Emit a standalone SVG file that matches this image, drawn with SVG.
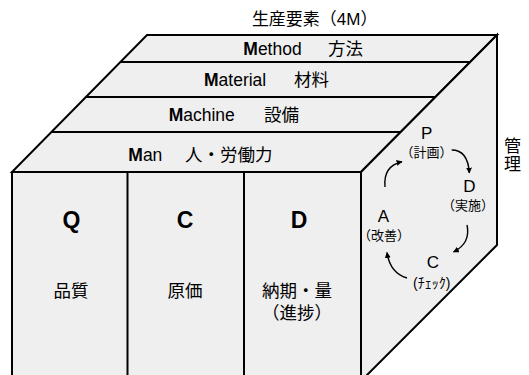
<svg xmlns="http://www.w3.org/2000/svg" width="529" height="375" viewBox="0 0 529 375">
<defs>
<style>
text{font-family:"Liberation Sans","Noto Sans CJK JP",sans-serif;fill:#000}
.face{fill:#efefef;stroke:#000;stroke-width:2;stroke-linejoin:miter}
.ln{stroke:#000;stroke-width:2;fill:none}
.band{font-size:17.5px}
.big{font-size:23px;font-weight:bold}
.jp{font-size:17.5px}
.pd{font-size:17px}
.sm{font-size:13px}
.arr{fill:none;stroke:#000;stroke-width:1.4;marker-end:url(#ah)}
</style>
<marker id="ah" viewBox="0 0 10 10" refX="9" refY="5" markerWidth="6" markerHeight="6" markerUnits="userSpaceOnUse" orient="auto">
<path d="M0,0 L10,5 L0,10 z" fill="#000"/>
</marker>
</defs>
<rect width="529" height="375" fill="#fff"/>
<text id="title" x="314.7" y="25" font-size="17" text-anchor="middle">生産要素（4M）</text>
<g id="top-face">
<polygon class="face" points="147,35 497,35 361,172 12,172"/>
<g id="band-method">
<text class="band" x="243.3" y="55"><tspan font-weight="bold">M</tspan>ethod</text>
<text class="band" x="328" y="55">方法</text>
</g>
<g id="band-material">
<line class="ln" x1="120.4" y1="62" x2="470.2" y2="62"/>
<text class="band" x="204" y="86"><tspan font-weight="bold">M</tspan>aterial</text>
<text class="band" x="294" y="86">材料</text>
</g>
<g id="band-machine">
<line class="ln" x1="85.9" y1="97" x2="435.5" y2="97"/>
<text class="band" x="168.7" y="121"><tspan font-weight="bold">M</tspan>achine</text>
<text class="band" x="264" y="121">設備</text>
</g>
<g id="band-man">
<line class="ln" x1="51.4" y1="132" x2="400.7" y2="132"/>
<text class="band" x="128.3" y="161"><tspan font-weight="bold">M</tspan>an</text>
<text class="band" x="185" y="161">人・労働力</text>
</g>
</g>
<g id="front-face">
<polygon class="face" points="12,172 361,172 361,380 12,380"/>
<g id="col-q">
<text class="big" x="71.5" y="228" text-anchor="middle">Q</text>
<text class="jp" x="71" y="296.5" text-anchor="middle">品質</text>
</g>
<g id="col-c">
<line class="ln" x1="127.5" y1="172" x2="127.5" y2="380"/>
<text class="big" x="185" y="228" text-anchor="middle">C</text>
<text class="jp" x="185" y="296.5" text-anchor="middle">原価</text>
</g>
<g id="col-d">
<line class="ln" x1="244" y1="172" x2="244" y2="380"/>
<text class="big" x="299" y="228" text-anchor="middle">D</text>
<text class="jp" x="297" y="296.5" text-anchor="middle">納期・量</text>
<text class="jp" x="297" y="319" text-anchor="middle">（進捗）</text>
</g>
</g>
<g id="right-face">
<polygon class="face" points="361,172 497,35 497,245 361,381"/>
<g id="node-p">
<text class="pd" x="426.7" y="139.3" text-anchor="middle">P</text>
<text class="sm" x="426.5" y="157" text-anchor="middle">（計画）</text>
</g>
<g id="node-d">
<text class="pd" x="469.5" y="191.5" text-anchor="middle">D</text>
<text class="sm" x="468" y="210" text-anchor="middle">（実施）</text>
</g>
<g id="node-c">
<text class="pd" x="433" y="268" text-anchor="middle">C</text>
<text x="431.7" y="288" font-size="14" text-anchor="middle">(ﾁｪｯｸ)</text>
</g>
<g id="node-a">
<text class="pd" x="383.3" y="221.5" text-anchor="middle">A</text>
<text class="sm" x="384" y="240" text-anchor="middle">（改善）</text>
</g>
</g>
<g id="label-kanri">
<text x="512.5" y="152" font-size="17" text-anchor="middle">管</text>
<text x="512.5" y="170" font-size="17" text-anchor="middle">理</text>
</g>
<g id="connectors">
<path class="arr" d="M451.7,150 Q468,150 469.3,173"/>
<path class="arr" d="M467,225 Q471,243 453.5,252"/>
<path class="arr" d="M407,278 Q390,273 387,252.5"/>
<path class="arr" d="M385,187 Q383,166 402,161.7"/>
</g>
</svg>
